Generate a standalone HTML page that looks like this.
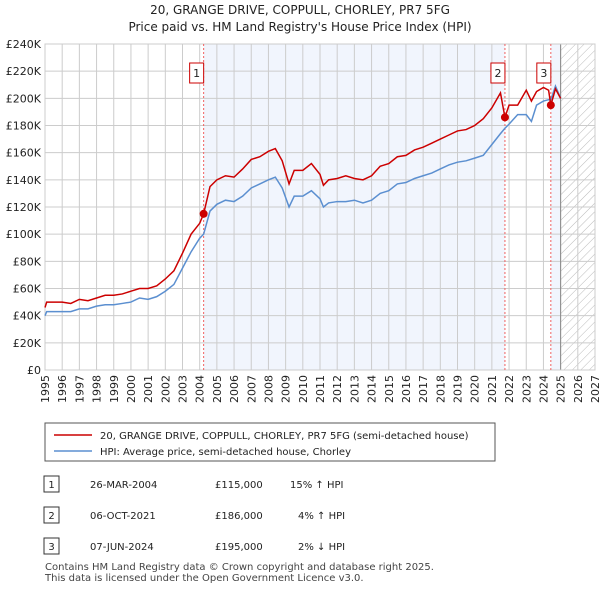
<!DOCTYPE html>
<html><head><meta charset="utf-8"><style>
body{margin:0;background:#fff;font-family:"Liberation Sans","DejaVu Sans",sans-serif;}
svg text{font-family:"DejaVu Sans","Liberation Sans",sans-serif;}
</style></head><body>
<svg id="c" width="600" height="590" xmlns="http://www.w3.org/2000/svg">
<defs><pattern id="hatch" width="6" height="6" patternUnits="userSpaceOnUse" patternTransform="rotate(45)"><line x1="0" y1="0" x2="0" y2="6" stroke="#bbb" stroke-width="1"/></pattern></defs>
<text x="300" y="14" text-anchor="middle" font-size="12" fill="#222">20, GRANGE DRIVE, COPPULL, CHORLEY, PR7 5FG</text>
<text x="300" y="31" text-anchor="middle" font-size="12" fill="#222">Price paid vs. HM Land Registry's House Price Index (HPI)</text>
<g id="plot"></g>
<g>
<rect x="45" y="423" width="450" height="38" fill="#fff" stroke="#555"/>
<line x1="54" y1="435" x2="92" y2="435" stroke="#cc0000" stroke-width="1.5"/>
<text x="100" y="439" font-size="10" fill="#222">20, GRANGE DRIVE, COPPULL, CHORLEY, PR7 5FG (semi-detached house)</text>
<line x1="54" y1="451" x2="92" y2="451" stroke="#5b8fd0" stroke-width="1.5"/>
<text x="100" y="455" font-size="10" fill="#222">HPI: Average price, semi-detached house, Chorley</text>
</g>
<g font-size="10" fill="#222">
<rect x="44" y="476" width="15" height="16" fill="#fff" stroke="#333"/><text x="51.5" y="488" text-anchor="middle">1</text>
<text x="90" y="488">26-MAR-2004</text><text x="215" y="488">£115,000</text><text x="290" y="488">15% ↑ HPI</text>
<rect x="44" y="507" width="15" height="16" fill="#fff" stroke="#333"/><text x="51.5" y="519" text-anchor="middle">2</text>
<text x="90" y="519">06-OCT-2021</text><text x="215" y="519">£186,000</text><text x="298" y="519">4% ↑ HPI</text>
<rect x="44" y="538" width="15" height="16" fill="#fff" stroke="#333"/><text x="51.5" y="550" text-anchor="middle">3</text>
<text x="90" y="550">07-JUN-2024</text><text x="215" y="550">£195,000</text><text x="298" y="550">2% ↓ HPI</text>
</g>
<text x="45" y="570" font-size="10" fill="#444">Contains HM Land Registry data © Crown copyright and database right 2025.</text>
<text x="45" y="581" font-size="10" fill="#444">This data is licensed under the Open Government Licence v3.0.</text>
</svg>
<script>
const yearsX=[1995,1995.1,1996,1996.5,1997,1997.5,1998,1998.5,1999,1999.5,2000,2000.5,2001,2001.5,2002,2002.5,2003,2003.5,2004,2004.23,2004.6,2005,2005.5,2006,2006.5,2007,2007.5,2008,2008.4,2008.8,2009.2,2009.5,2010,2010.5,2011,2011.2,2011.5,2012,2012.5,2013,2013.5,2014,2014.5,2015,2015.5,2016,2016.5,2017,2017.5,2018,2018.5,2019,2019.5,2020,2020.5,2021,2021.5,2021.76,2022,2022.5,2023,2023.3,2023.6,2024,2024.3,2024.43,2024.7,2025];
const priceK=[46,50,50,49,52,51,53,55,55,56,58,60,60,62,67,73,86,100,108,115,135,140,143,142,148,155,157,161,163,154,137,147,147,152,144,136,140,141,143,141,140,143,150,152,157,158,162,164,167,170,173,176,177,180,185,193,204,186,195,195,206,198,205,208,206,195,207,200];
const hpiK=[40,43,43,43,45,45,47,48,48,49,50,53,52,54,58,63,75,87,97,100,117,122,125,124,128,134,137,140,142,134,120,128,128,132,126,120,123,124,124,125,123,125,130,132,137,138,141,143,145,148,151,153,154,156,158,166,174,178,181,188,188,183,195,198,199,199,209,200];
const sales=[[2004.23,115,"1"],[2021.76,186,"2"],[2024.43,195,"3"]];
const yTicks=[0,20,40,60,80,100,120,140,160,180,200,220,240];
const xTicks=[1995,1996,1997,1998,1999,2000,2001,2002,2003,2004,2005,2006,2007,2008,2009,2010,2011,2012,2013,2014,2015,2016,2017,2018,2019,2020,2021,2022,2023,2024,2025,2026,2027];
const L=45,R=595,T=44,B=370,X0=1995,X1=2027,YMAX=240;
const sx=v=>L+(v-X0)/(X1-X0)*(R-L), sy=v=>B-v/YMAX*(B-T);
const NS="http://www.w3.org/2000/svg", g=document.getElementById('plot');
function mk(t,a,p){const e=document.createElementNS(NS,t);for(const k in a)e.setAttribute(k,a[k]);(p||g).appendChild(e);return e;}
let e;
e=mk('rect',{x:sx(sales[0][0]),y:T,width:sx(sales[1][0])-sx(sales[0][0]),height:B-T,fill:'#eef3fc',opacity:0.8});

e=mk('rect',{x:sx(sales[2][0]),y:T,width:sx(2025)-sx(sales[2][0]),height:B-T,fill:'#eef3fc',opacity:0.8});

e=mk('rect',{x:sx(2025),y:T,width:R-sx(2025),height:B-T,fill:'url(#hatch)'});

yTicks.forEach(v=>{mk('line',{x1:L,x2:R,y1:sy(v),y2:sy(v),stroke:'#ccc'});
 e=mk('text',{x:L-4,y:sy(v)+4,'text-anchor':'end','font-size':11,fill:'#222'});e.textContent=v?'£'+v+'K':'£0';
 });
xTicks.forEach(v=>{mk('line',{x1:sx(v),x2:sx(v),y1:T,y2:B,stroke:'#ccc'});
 e=mk('text',{x:0,y:0,'text-anchor':'end','font-size':11,fill:'#222',transform:`translate(${sx(v)+4},${B+5}) rotate(-90)`});e.textContent=v;
 });
mk('line',{x1:sx(2025),x2:sx(2025),y1:T,y2:B,stroke:'#888'});
mk('rect',{x:L,y:T,width:R-L,height:B-T,fill:'none',stroke:'#ccc'});
sales.forEach(s=>{e=mk('line',{x1:sx(s[0]),x2:sx(s[0]),y1:T,y2:B,stroke:'#f06060','stroke-dasharray':'2,2'});
 });
e=mk('polyline',{points:yearsX.map((x,i)=>sx(x)+','+sy(hpiK[i])).join(' '),fill:'none',stroke:'#5b8fd0','stroke-width':1.5});

e=mk('polyline',{points:yearsX.map((x,i)=>sx(x)+','+sy(priceK[i])).join(' '),fill:'none',stroke:'#cc0000','stroke-width':1.5});

sales.forEach(s=>{e=mk('circle',{cx:sx(s[0]),cy:sy(s[1]),r:4,fill:'#cc0000'});
 
 e=mk('rect',{x:sx(s[0])-14,y:63,width:14,height:20,fill:'#fff',stroke:'#cc0000'});
 
 e=mk('text',{x:sx(s[0])-7,y:77,'text-anchor':'middle','font-size':11,fill:'#222'});e.textContent=s[2];
 });
</script>
</body></html>
